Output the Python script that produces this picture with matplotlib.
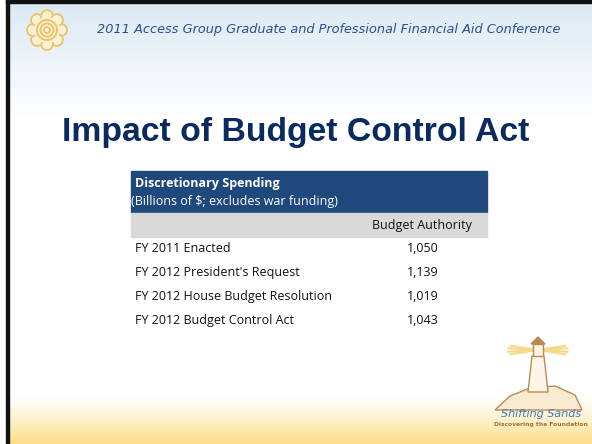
#Budget Control Act slide - discretionary spending table
import numpy as np
import matplotlib.pyplot as plt
from matplotlib.patches import Rectangle, Circle, Polygon, Ellipse

#Table data
header_title = 'Discretionary Spending'
header_sub = '(Billions of $; excludes war funding)'
col_label = 'Budget Authority'
row_labels = ['FY 2011 Enacted',
              "FY 2012 President's Request",
              'FY 2012 House Budget Resolution',
              'FY 2012 Budget Control Act']
row_values = [1050, 1139, 1019, 1043]

W, H = 592, 444
fig = plt.figure(figsize=(W/100, H/100), dpi=100)
ax = fig.add_axes([0, 0, 1, 1])
ax.set_xlim(0, W)
ax.set_ylim(H, 0)
ax.axis('off')

#background gradients
top = np.linspace(0, 1, 120)[:, None]
top_img = np.ones((120, 1, 3))
c0 = np.array([0.86, 0.91, 0.95])
for i in range(3):
    top_img[:, 0, i] = c0[i] + (1 - c0[i])*top[:, 0]
ax.imshow(top_img, extent=(0, W, 120, 0), aspect='auto', zorder=0)
ax.add_patch(Rectangle((0, 120), W, 275, color='white', zorder=0))
bot = np.linspace(0, 1, 50)[:, None]
bot_img = np.ones((50, 1, 3))
c1 = np.array([0.99, 0.87, 0.52])
for i in range(3):
    bot_img[:, 0, i] = 1 + (c1[i] - 1)*bot[:, 0]**1.3
ax.imshow(bot_img, extent=(0, W, H, 394), aspect='auto', zorder=0)

#frame lines
ax.add_patch(Rectangle((0, 0), 6, H, color='white', zorder=5))
ax.add_patch(Rectangle((6, 0), 3, H, color='#111111', zorder=6))
ax.add_patch(Rectangle((6, 0), W, 3, color='#111111', zorder=6))

#sun logo
sun = '#e8c46e'
for a in np.linspace(0, 2*np.pi, 9)[:-1]:
    ax.add_patch(Circle((47 + 14*np.cos(a), 30 + 14*np.sin(a)), 6,
                        fc='#fbf0d2', ec=sun, lw=1.3, zorder=3))
ax.add_patch(Circle((47, 30), 13, fc='#fbf0d2', ec='none', zorder=4))
for r in [10, 6.5, 3]:
    ax.add_patch(Circle((47, 30), r, fc='none', ec=sun, lw=1.4, zorder=4))

ax.text(97, 30, '2011 Access Group Graduate and Professional Financial Aid Conference',
        fontsize=9.3, style='italic', color='#2b4f8e', family='DejaVu Sans',
        va='center', ha='left', zorder=4)

#title
ax.text(296, 132, 'Impact of Budget Control Act', fontsize=24.3, fontweight='bold',
        color='#0b2a60', family='Liberation Sans', ha='center', va='center')

#table
tx0, tx1 = 131, 487
fs = 9.0
tfont = 'Open Sans'
ax.add_patch(Rectangle((tx0, 171), tx1 - tx0, 42, color='#1f497d', zorder=2))
ax.add_patch(Rectangle((tx0, 213), tx1 - tx0, 24, color='#d9d9d9', zorder=2))
ax.text(tx0 + 4, 183, header_title, fontsize=fs, fontweight='bold', color='white',
        family=tfont, va='center', zorder=3)
ax.text(tx0, 201, header_sub, fontsize=fs, color='white',
        family=tfont, va='center', zorder=3)
ax.text(472, 225, col_label, fontsize=fs, color='#111111', family=tfont,
        ha='right', va='center', zorder=3)
for i, (lab, val) in enumerate(zip(row_labels, row_values)):
    y = 248 + 24*i
    ax.text(tx0 + 4, y, lab, fontsize=fs, color='#111111', family=tfont,
            va='center', zorder=3)
    ax.text(439, y, f'{val:,}', fontsize=fs, color='#111111', family=tfont,
            ha='right', va='center', zorder=3)

#lighthouse logo
brown = '#b98a55'
for ang in [-25, -10, 10, 25, 170, 190, 155, 205]:
    a = np.radians(ang)
    ax.plot([538, 538 + 30*np.cos(a)], [350, 350 + 10*np.sin(a)],
            color='#f3d98a', lw=1.5, zorder=3)
ax.add_patch(Polygon([[495, 410], [510, 396], [530, 388], [555, 386], [575, 395], [582, 410]],
                     fc='#f8ead0', ec=brown, lw=1, zorder=3))
ax.add_patch(Polygon([[532, 356], [544, 356], [548, 392], [528, 392]],
                     fc='#fdf6e6', ec=brown, lw=1, zorder=4))
ax.add_patch(Rectangle((533, 344), 10, 12, fc='#fdf6e6', ec=brown, lw=1, zorder=4))
ax.add_patch(Polygon([[531, 344], [538, 337], [545, 344]], fc=brown, ec=brown, zorder=4))
ax.text(541, 414, 'Shifting Sands', fontsize=8, style='italic', color='#3a78b8',
        family='DejaVu Sans', ha='center', va='center', zorder=5)
ax.text(541, 424, 'Discovering the Foundation', fontsize=4.3, fontweight='bold',
        color='#a0703a', family='DejaVu Sans', ha='center', va='center', zorder=5)

fig.savefig('out.png', dpi=100)
